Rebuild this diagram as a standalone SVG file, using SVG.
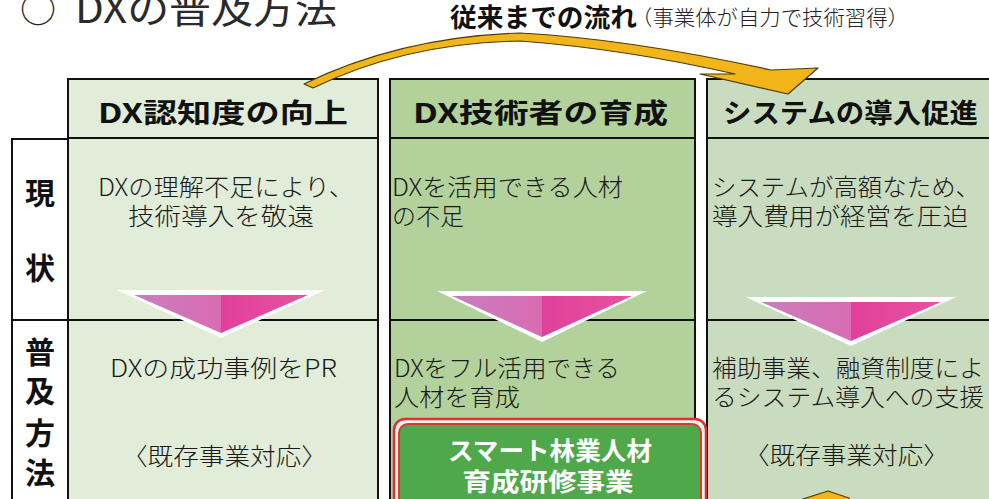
<svg xmlns="http://www.w3.org/2000/svg" width="989" height="499" viewBox="0 0 989 499">
<style>
text{font-family:"Noto Sans CJK JP","Noto Sans",sans-serif;fill:#1a1a1a}
.ttl{font-size:39px;font-weight:400;fill:#2a2a2a}
.flow{font-size:26px;font-weight:700;fill:#111}
.note{font-size:21px;font-weight:300;fill:#222}
.hd{font-size:27px;font-weight:700;fill:#111}
.bd{font-size:24px;font-weight:300}
.lb{font-size:30px;font-weight:700;fill:#111;text-anchor:middle}
.gb{font-size:25px;font-weight:700;fill:#fff;text-anchor:middle}
.box{stroke:#111;stroke-width:2}
.ln{stroke:#111;stroke-width:2}
.tw{fill:#fff}
.tl{fill:url(#pinkL)}
.tr{fill:url(#pinkR)}
.yel{fill:#f2b51a;stroke:#4a3b08;stroke-width:1.2;stroke-linejoin:round}
</style>
<defs>
<linearGradient id="pinkL" x1="0" y1="0" x2="1" y2="0"><stop offset="0" stop-color="#c97dbd"/><stop offset="1" stop-color="#d96cb3"/></linearGradient>
<linearGradient id="pinkR" x1="0" y1="0" x2="1" y2="0"><stop offset="0" stop-color="#e0409b"/><stop offset="1" stop-color="#e6539f"/></linearGradient>
</defs>
<rect width="989" height="499" fill="#fff"/>

<g id="title">
<text class="ttl" y="23"><tspan x="20" font-size="36">○</tspan><tspan x="75" textLength="262" lengthAdjust="spacingAndGlyphs">DXの普及方法</tspan></text>
<text class="flow" x="450" y="27" textLength="187" lengthAdjust="spacingAndGlyphs">従来までの流れ</text>
<text class="note" x="631" y="25" textLength="278" lengthAdjust="spacingAndGlyphs">（事業体が自力で技術習得）</text>
</g>

<g id="rowlabels">
<rect class="box" x="12" y="139" width="56" height="380" fill="#fff"/>
<line class="ln" x1="12" y1="320" x2="68" y2="320"/>
<text class="lb" x="40" y="204">現</text>
<text class="lb" x="40" y="279">状</text>
<text class="lb" x="40" y="363">普</text>
<text class="lb" x="40" y="402">及</text>
<text class="lb" x="40" y="444">方</text>
<text class="lb" x="40" y="484">法</text>
</g>

<g id="col1">
<rect class="box" x="68" y="79" width="310" height="440" fill="#e1edd8"/>
<line class="ln" x1="68" y1="138" x2="378" y2="138"/>
<line class="ln" x1="68" y1="320" x2="378" y2="320"/>
<text class="hd" x="98" y="123" textLength="250" lengthAdjust="spacingAndGlyphs">DX認知度の向上</text>
<text class="bd" x="98" y="196" textLength="256" lengthAdjust="spacingAndGlyphs">DXの理解不足により、</text>
<text class="bd" x="128" y="225" textLength="186" lengthAdjust="spacingAndGlyphs">技術導入を敬遠</text>
<text class="bd" x="110" y="377" textLength="227" lengthAdjust="spacingAndGlyphs">DXの成功事例をPR</text>
<text class="bd" x="122" y="465" textLength="205" lengthAdjust="spacingAndGlyphs">〈既存事業対応〉</text>
</g>

<g id="col2">
<rect class="box" x="390" y="79" width="305" height="440" fill="#b3d29b"/>
<line class="ln" x1="390" y1="138" x2="695" y2="138"/>
<line class="ln" x1="390" y1="320" x2="695" y2="320"/>
<text class="hd" x="413" y="123" textLength="255" lengthAdjust="spacingAndGlyphs">DX技術者の育成</text>
<text class="bd" x="392" y="196" textLength="231" lengthAdjust="spacingAndGlyphs">DXを活用できる人材</text>
<text class="bd" x="392" y="225">の不足</text>
<text class="bd" x="394" y="377" textLength="226" lengthAdjust="spacingAndGlyphs">DXをフル活用できる</text>
<text class="bd" x="394" y="406" textLength="126" lengthAdjust="spacingAndGlyphs">人材を育成</text>
</g>

<g id="col3">
<rect class="box" x="707" y="79" width="300" height="440" fill="#cadcc0"/>
<line class="ln" x1="707" y1="138" x2="989" y2="138"/>
<line class="ln" x1="707" y1="320" x2="989" y2="320"/>
<text class="hd" x="723" y="123" textLength="255" lengthAdjust="spacingAndGlyphs">システムの導入促進</text>
<text class="bd" x="712" y="196" textLength="268" lengthAdjust="spacingAndGlyphs">システムが高額なため、</text>
<text class="bd" x="712" y="225" textLength="256" lengthAdjust="spacingAndGlyphs">導入費用が経営を圧迫</text>
<text class="bd" x="712" y="377" textLength="272" lengthAdjust="spacingAndGlyphs">補助事業、融資制度によ</text>
<text class="bd" x="712" y="406" textLength="272" lengthAdjust="spacingAndGlyphs">るシステム導入への支援</text>
<text class="bd" x="744" y="464" textLength="205" lengthAdjust="spacingAndGlyphs">〈既存事業対応〉</text>
</g>

<g id="training">
<rect x="394" y="419" width="312" height="110" rx="11" fill="#f2f2f2" stroke="#e0302a" stroke-width="2.5"/>
<rect x="399" y="424" width="302" height="100" rx="9" fill="#4fa84a" stroke="#d93a30" stroke-width="2"/>
<text class="gb" x="550" y="460" textLength="204" lengthAdjust="spacingAndGlyphs">スマート林業人材</text>
<text class="gb" x="548" y="491" textLength="171" lengthAdjust="spacingAndGlyphs">育成研修事業</text>
</g>

<g id="connectors">
<polygon class="tw" points="117,290 325,290 221,338"/>
<polygon class="tl" points="134,295 221,295 221,333"/>
<polygon class="tr" points="221,295 308,295 221,333"/>
<polygon class="tw" points="437,291 647,291 542,342"/>
<polygon class="tl" points="452,296 542,296 542,337"/>
<polygon class="tr" points="542,296 632,296 542,337"/>
<polygon class="tw" points="746,297 956,297 851,346"/>
<polygon class="tl" points="761,302 851,302 851,341"/>
<polygon class="tr" points="851,302 941,302 851,341"/>
<path class="yel" d="M304,84 Q400,37 520,33 Q630,39 771,70 L818,68 L788,94 L700,74 L735,74 Q625,49 520,41 Q405,43 313,88 Z"/>
<path class="yel" d="M800,500 L828,491 L849,498 L849,500 Z"/>
</g>
</svg>
